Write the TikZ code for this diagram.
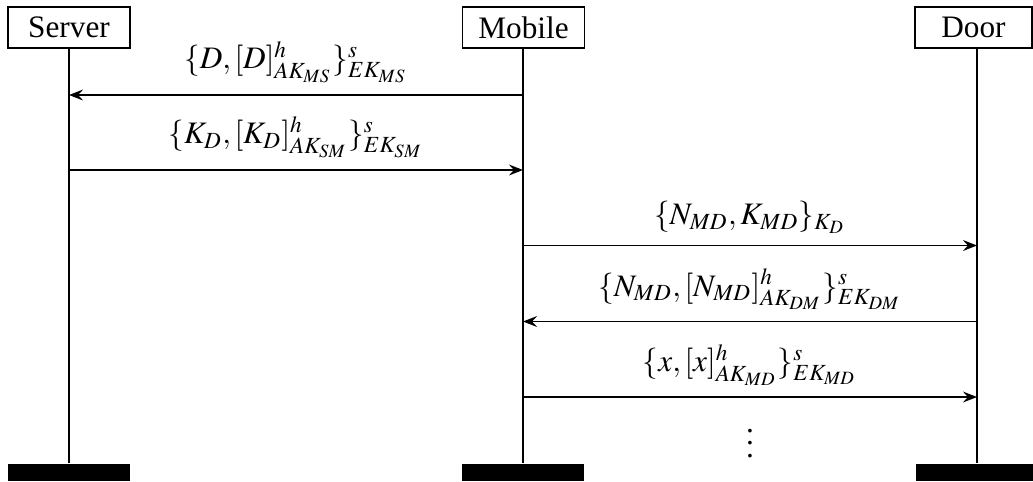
\documentclass[tikz,border=0pt]{standalone}
\usepackage{mathptmx}
\usepackage[no-math]{fontspec}
\setmainfont{Liberation Serif}
\usetikzlibrary{arrows.meta}
\begin{document}
\begin{tikzpicture}[x=0.32pt,y=-0.32pt,
  actor/.style={draw, line width=0.55pt, minimum width=39pt, minimum height=13.1pt, inner sep=0pt, font=\fontsize{10}{12}\selectfont},
  life/.style={line width=0.55pt},
  bar/.style={fill=black, draw=none, minimum width=39pt, minimum height=5.44pt, inner sep=0pt},
  msg/.style={-{Stealth[length=4.5pt,width=3.5pt,inset=1.6pt]}, line width=0.55pt},
  lbl/.style={above=3.5pt, inner sep=0pt, font=\fontsize{10}{12}\selectfont}]
\useasboundingbox (0,0) rectangle (1033,481);
\node[actor] (S) at (69,27.5) {Server};
\node[actor] (M) at (523.5,27.5) {Mobile};
\node[actor, minimum width=37.4pt] (D) at (973.5,27.5) {Door};
\node[bar] (Sb) at (69,472.5) {};
\node[bar] (Mb) at (523,472.5) {};
\node[bar] (Db) at (977,472.5) {};
\coordinate (Stop) at (69,48);
\coordinate (Mtop) at (523,48);
\coordinate (Dtop) at (977,48);
\draw[life] (Stop) -- (Sb.north);
\draw[life] (Mtop) -- (Mb.north);
\draw[life] (Dtop) -- (Db.north);
\coordinate (s1) at (69,95);   \coordinate (m1) at (523,95);
\coordinate (s2) at (69,170);  \coordinate (m2) at (523,170);
\coordinate (m3) at (523,245.5); \coordinate (d3) at (977,245.5);
\coordinate (m4) at (523,321.5); \coordinate (d4) at (977,321.5);
\coordinate (m5) at (523,397);   \coordinate (d5) at (977,397);
\draw[msg] (m1) -- node[lbl] (l1) {$\{D,[D]^h_{AK_{MS}}\}^s_{EK_{MS}}$} (s1);
\draw[msg] (s2) -- node[lbl] (l2) {$\{K_D,[K_D]^h_{AK_{SM}}\}^s_{EK_{SM}}$} (m2);
\draw[msg] (m3) -- node[lbl] (l3) {$\{N_{MD},K_{MD}\}_{K_D}$} (d3);
\draw[msg] (d4) -- node[lbl] (l4) {$\{N_{MD},[N_{MD}]^h_{AK_{DM}}\}^s_{EK_{DM}}$} (m4);
\draw[msg] (m5) -- node[lbl] (l5) {$\{x,[x]^h_{AK_{MD}}\}^s_{EK_{MD}}$} (d5);
\node[font=\fontsize{10}{12}\selectfont] (dots) at (750,434) {$\vdots$};
\end{tikzpicture}
\end{document}
